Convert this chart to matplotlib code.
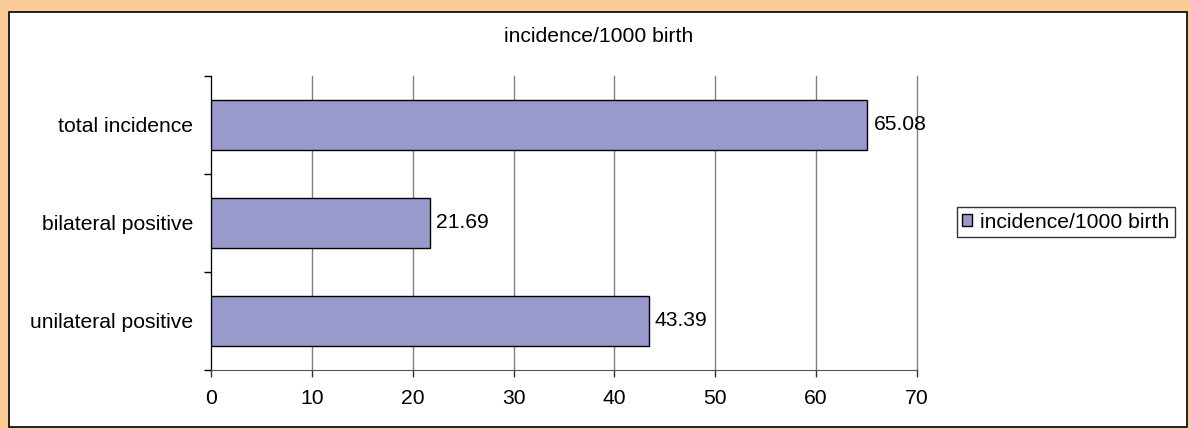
import matplotlib.pyplot as plt
from matplotlib.patches import Rectangle

plt.rcParams['font.family'] = ['Liberation Sans', 'DejaVu Sans']

categories = ['unilateral positive', 'bilateral positive', 'total incidence']
values = [43.39, 21.69, 65.08]
series_name = 'incidence/1000 birth'

BAR_COLOR = '#9999CC'
FS = 15.2

fig = plt.figure(figsize=(11.9, 4.29), dpi=100)
fig.patch.set_facecolor('#FACB96')

# white chart area with a thin black frame
fig.patches.append(Rectangle((9 / 1190, 2 / 429), 1178 / 1190, 415 / 429,
                             transform=fig.transFigure, facecolor='white',
                             edgecolor='black', linewidth=1.2, zorder=-1))

ax = fig.add_axes([211 / 1190, 59 / 429, 706 / 1190, 294 / 429])
ax.set_facecolor('none')

pos = list(range(len(categories)))
bars = ax.barh(pos, values, height=0.51, color=BAR_COLOR, edgecolor='black',
               linewidth=1, label=series_name, zorder=3)

for b, v in zip(bars, values):
    ax.text(b.get_width() + 0.6, b.get_y() + b.get_height() / 2, f'{v:.2f}',
            va='center', ha='left', fontsize=FS, zorder=4)

ax.set_xlim(0, 70)
ax.set_ylim(-0.5, len(categories) - 0.5)
ax.set_xticks(range(0, 71, 10))
ax.grid(axis='x', color='#808080', linewidth=1, zorder=1)
for gl in ax.get_xgridlines():
    gl.set_clip_on(False)

ax.set_yticks(pos)
ax.set_yticklabels(categories)
ax.set_yticks([p - 0.5 for p in range(len(categories) + 1)], minor=True)
ax.tick_params(axis='y', which='major', length=0, pad=13, labelsize=FS)
ax.tick_params(axis='y', which='minor', length=5, width=1, color='black')
ax.tick_params(axis='x', length=5, width=1, color='#333333', labelsize=FS, pad=9)

for side in ('top', 'right'):
    ax.spines[side].set_visible(False)
ax.spines['left'].set_color('black')
ax.spines['bottom'].set_color('#555555')

fig.text(599 / 1190, 1 - 37 / 429, series_name, ha='center', va='center', fontsize=FS)

leg = fig.legend(handles=[bars], labels=[series_name], loc='center',
                 bbox_to_anchor=(1066 / 1190, 1 - 222 / 429), fontsize=FS,
                 frameon=True, fancybox=False, edgecolor='black',
                 handlelength=0.45, handleheight=0.45, handletextpad=0.4,
                 borderpad=0.25, borderaxespad=0)
leg.get_frame().set_linewidth(1)

fig.savefig('out.png', dpi=100, facecolor=fig.get_facecolor())
